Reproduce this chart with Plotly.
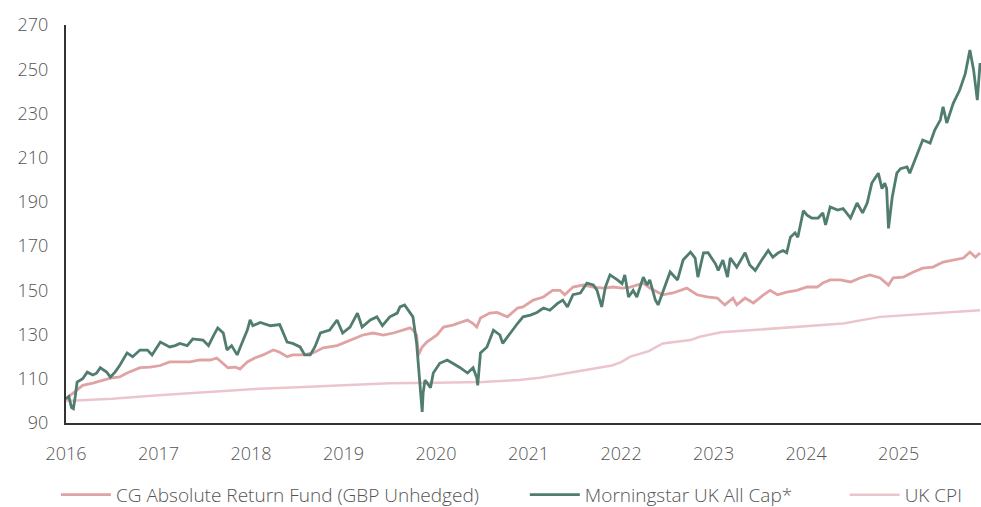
import plotly.graph_objects as go

# ---- data (decimal years, index values) ----
ms_years = [2016.00, 2016.03, 2016.06, 2016.08, 2016.10, 2016.12, 2016.18, 2016.23, 2016.29, 2016.33,
            2016.37, 2016.40, 2016.44, 2016.48, 2016.53, 2016.58, 2016.66, 2016.72, 2016.80, 2016.88,
            2016.93, 2017.02, 2017.08, 2017.12, 2017.18, 2017.23, 2017.31, 2017.37, 2017.48, 2017.54,
            2017.60, 2017.64, 2017.70, 2017.74, 2017.79, 2017.85, 2017.90, 2017.96, 2017.99, 2018.02,
            2018.10, 2018.21, 2018.31, 2018.35, 2018.39, 2018.45, 2018.53, 2018.58, 2018.64, 2018.69,
            2018.75, 2018.85, 2018.93, 2018.99, 2019.07, 2019.15, 2019.20, 2019.29, 2019.36, 2019.42,
            2019.50, 2019.58, 2019.61, 2019.66, 2019.72, 2019.75, 2019.79, 2019.81, 2019.83, 2019.85,
            2019.86, 2019.88, 2019.94, 2019.97, 2020.04, 2020.12, 2020.18, 2020.26, 2020.34, 2020.40,
            2020.44, 2020.45, 2020.48, 2020.55, 2020.62, 2020.69, 2020.72, 2020.80, 2020.88, 2020.94,
            2021.02, 2021.09, 2021.16, 2021.23, 2021.31, 2021.37, 2021.42, 2021.48, 2021.56, 2021.63,
            2021.70, 2021.74, 2021.79, 2021.83, 2021.88, 2021.96, 2022.01, 2022.04, 2022.08, 2022.13,
            2022.17, 2022.24, 2022.28, 2022.31, 2022.37, 2022.40, 2022.45, 2022.53, 2022.61, 2022.67,
            2022.75, 2022.80, 2022.83, 2022.89, 2022.94, 2023.02, 2023.05, 2023.10, 2023.15, 2023.18,
            2023.25, 2023.34, 2023.39, 2023.45, 2023.52, 2023.59, 2023.64, 2023.70, 2023.75, 2023.79,
            2023.83, 2023.88, 2023.91, 2023.97, 2024.01, 2024.06, 2024.13, 2024.18, 2024.21, 2024.26,
            2024.34, 2024.40, 2024.48, 2024.55, 2024.61, 2024.66, 2024.71, 2024.78, 2024.82, 2024.85,
            2024.87, 2024.89, 2024.93, 2024.98, 2025.02, 2025.09, 2025.12, 2025.20, 2025.26, 2025.34,
            2025.39, 2025.45, 2025.48, 2025.52, 2025.59, 2025.66, 2025.72, 2025.77, 2025.81, 2025.85,
            2025.88]
ms_values = [101, 102, 97, 96.5, 102, 108.5, 110, 113, 111.7, 112.5,
             115, 114, 113, 110.8, 113, 116, 121.7, 120, 123, 123,
             120.8, 126.6, 125.5, 124.4, 125, 126, 125, 128, 127.5, 125,
             130, 133, 130.7, 123, 125, 120.8, 126, 132, 136.6, 134,
             135.5, 134, 134.5, 130.7, 126.6, 126, 124.4, 120.8, 120.8, 124.4,
             130.7, 132, 136.6, 130.7, 133.4, 139.7, 133.4, 136.6, 138, 134,
             138, 139.7, 142.5, 143.4, 140, 138, 126, 115, 101.8, 95,
             103.5, 109.4, 106, 112.6, 117, 118.5, 117, 115, 112.6, 115,
             110.4, 107, 121.7, 124.4, 132, 129.8, 126, 130.7, 135, 138,
             138.8, 140, 142, 141, 144, 145.6, 142.5, 148, 148.8, 153.3,
             152.4, 150, 142.5, 151.5, 157, 154.7, 153, 157, 147, 150,
             147, 156, 152.4, 154.7, 145.6, 143.4, 148.8, 158.3, 154.7, 163.7,
             167.3, 164.6, 156, 166.9, 167, 162, 159, 163.7, 156, 164.6,
             160.5, 167, 161.5, 159, 163.7, 168, 165, 167, 168, 167,
             174, 176, 174, 186, 184, 182.7, 182.7, 185, 179.6, 187.7,
             186.3, 187, 182.7, 189.5, 185, 189.5, 198.5, 203, 196, 198.5,
             196, 178, 192, 203, 205, 205.8, 203, 212, 218, 216.6,
             222.5, 227, 233, 225.7, 234.6, 240.6, 248, 258.7, 249.7, 236,
             252.8]

cg_years = [2016.00, 2016.01, 2016.12, 2016.18, 2016.29, 2016.40, 2016.48, 2016.58, 2016.66, 2016.80,
            2016.91, 2017.02, 2017.12, 2017.23, 2017.34, 2017.45, 2017.56, 2017.63, 2017.70, 2017.75,
            2017.83, 2017.88, 2017.96, 2018.04, 2018.13, 2018.24, 2018.31, 2018.39, 2018.45, 2018.56,
            2018.67, 2018.78, 2018.93, 2019.07, 2019.21, 2019.32, 2019.43, 2019.54, 2019.64, 2019.72,
            2019.75, 2019.79, 2019.81, 2019.85, 2019.90, 2020.01, 2020.08, 2020.18, 2020.34, 2020.40,
            2020.44, 2020.48, 2020.58, 2020.66, 2020.77, 2020.88, 2020.94, 2021.05, 2021.16, 2021.26,
            2021.34, 2021.39, 2021.48, 2021.59, 2021.70, 2021.81, 2021.91, 2022.01, 2022.10, 2022.24,
            2022.31, 2022.45, 2022.56, 2022.71, 2022.82, 2022.93, 2023.04, 2023.12, 2023.21, 2023.25,
            2023.34, 2023.43, 2023.54, 2023.61, 2023.69, 2023.79, 2023.90, 2024.01, 2024.12, 2024.18,
            2024.26, 2024.37, 2024.48, 2024.58, 2024.69, 2024.80, 2024.89, 2024.94, 2025.05, 2025.16,
            2025.26, 2025.37, 2025.48, 2025.59, 2025.70, 2025.77, 2025.83, 2025.88]
cg_values = [100.5, 101.3, 105, 107, 108, 109.4, 110.3, 110.8, 112.6, 115,
             115.3, 116, 117.6, 117.6, 117.6, 118.5, 118.5, 119.4, 117, 115,
             115.3, 114.4, 117.6, 119.4, 120.8, 123, 122, 120, 120.8, 120.8,
             121.7, 124, 125, 127.5, 129.8, 130.7, 129.8, 130.7, 132, 133,
             132, 129.8, 120.8, 124.4, 126.6, 129.8, 133.4, 134.3, 136.6, 135,
             133.4, 137.5, 139.7, 140, 138, 142, 142.5, 145.6, 147, 150,
             150, 148, 151.5, 152.4, 151.5, 151, 151.5, 151, 151.5, 153.3,
             151, 148, 148.8, 151, 148, 147, 146.5, 143.4, 146.5, 143.4,
             146.5, 144.3, 148, 150, 148, 149.2, 150, 151.5, 151.5, 153.3,
             154.7, 154.7, 153.8, 155.6, 157, 155.6, 152.4, 155.6, 156, 158.3,
             160, 160.5, 162.8, 163.7, 164.6, 167.3, 165, 166.9]

cpi_years = [2016.00, 2016.50, 2017.00, 2017.50, 2018.00, 2018.50, 2019.00, 2019.50, 2020.00, 2020.50,
             2020.90, 2021.12, 2021.30, 2021.62, 2021.90, 2022.00, 2022.10, 2022.30, 2022.45, 2022.75,
             2022.85, 2023.08, 2023.40, 2023.70, 2024.00, 2024.40, 2024.80, 2025.00, 2025.30, 2025.60,
             2025.88]
cpi_values = [100, 101, 102.5, 103.8, 105.3, 106.2, 107, 108, 108.2, 108.5,
              109.5, 110.5, 111.7, 114, 116, 117.5, 120, 122.5, 126, 127.5,
              129, 131, 132, 133, 133.8, 135, 138, 138.5, 139.5, 140.2,
              141]

year_ticks = [2016, 2017, 2018, 2019, 2020, 2021, 2022, 2023, 2024, 2025]
y_ticks = [90, 110, 130, 150, 170, 190, 210, 230, 250, 270]

names = ["CG Absolute Return Fund (GBP Unhedged)", "Morningstar UK All Cap*", "UK CPI"]
colors = ["#dfa3a3", "#517d71", "#ecc5cc"]

tick_font = dict(family="Open Sans", size=18, color="#555555", weight=300)
legend_font = dict(family="Open Sans", size=19, color="#555555", weight=300)

fig = go.Figure()
fig.add_trace(go.Scatter(x=cpi_years, y=cpi_values, mode="lines", name=names[2],
                         line=dict(color=colors[2], width=2.5), legend="legend3"))
fig.add_trace(go.Scatter(x=cg_years, y=cg_values, mode="lines", name=names[0],
                         line=dict(color=colors[0], width=2.8), legend="legend"))
fig.add_trace(go.Scatter(x=ms_years, y=ms_values, mode="lines", name=names[1],
                         line=dict(color=colors[1], width=2.8), legend="legend2"))

leg_common = dict(orientation="h", xref="container", yref="container", xanchor="left",
                  yanchor="middle", y=0.024, font=legend_font, itemwidth=50,
                  bgcolor="rgba(0,0,0,0)")

fig.update_layout(
    width=981, height=507,
    margin=dict(l=66, r=0, t=25, b=84),
    paper_bgcolor="white", plot_bgcolor="white",
    font=tick_font,
    showlegend=True,
    legend=dict(x=0.057, **leg_common),
    legend2=dict(x=0.535, **leg_common),
    legend3=dict(x=0.861, **leg_common),
    xaxis=dict(range=[2016, 2025.89], tickvals=year_ticks, ticktext=[str(v) for v in year_ticks],
               showgrid=False, zeroline=False, showline=True, linecolor="#333333", linewidth=2,
               ticks="outside", ticklen=13, tickcolor="rgba(0,0,0,0)", automargin=False,
               tickfont=tick_font),
    yaxis=dict(range=[90, 270], tickvals=y_ticks, showgrid=False, zeroline=False,
               showline=True, linecolor="#333333", linewidth=2,
               ticks="outside", ticklen=12, tickcolor="rgba(0,0,0,0)", automargin=False,
               tickfont=tick_font),
)

fig.write_html("out.html", config={"displayModeBar": False},
               post_script="document.body.style.margin='0';")
